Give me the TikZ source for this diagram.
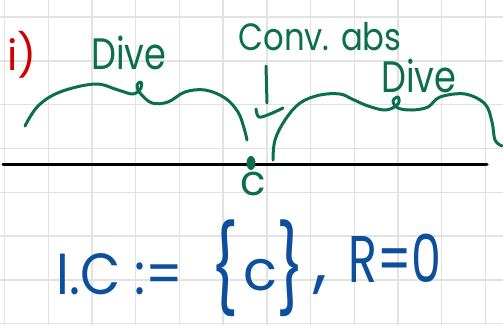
\documentclass[tikz,border=0pt]{standalone}
\usepackage{fontspec}
\setmainfont{Poppins}
\definecolor{gridc}{HTML}{E2E2E2}
\definecolor{pgreen}{HTML}{0B6E4F}
\definecolor{pblue}{HTML}{0D4F9C}
\definecolor{pred}{HTML}{D00000}
\tikzset{
  gridline/.style={gridc, line width=1.4pt},
  greenink/.style={pgreen, line width=3pt, line cap=round, line join=round},
  hand/.style={inner sep=0pt, anchor=center},
}
\newcommand{\hs}[2]{\scalebox{#1}[1]{#2}}
\begin{document}
\begin{tikzpicture}[x=1pt,y=-1pt]
\useasboundingbox (0,0) rectangle (503,325);
\fill[white] (0,0) rectangle (503,325);
% grid
\foreach \i in {0,...,11} \draw[gridline] ({4.6+43.7*\i},0) -- ({4.6+43.7*\i},325);
\foreach \j in {0,...,7} \draw[gridline] (0,{17+43.8*\j}) -- (503,{17+43.8*\j});
% axis line
\coordinate (la) at (3,164);
\coordinate (lb) at (487,164);
\draw[black, line width=3pt, line cap=round] (la) -- (lb);
% point c
\fill[pgreen] (251,163) ellipse [x radius=4.5, y radius=7];
\node[hand, text=pgreen, font=\fontsize{42}{42}\selectfont] (c) at (253,184) {c};
% label i)
\node[hand, text=pred, font=\fontsize{42}{42}\selectfont] (lab) at (22,55) {i)};
% left brace
\draw[greenink] plot[smooth, tension=0.6] coordinates {(25,126) (38,106) (60,92) (95,84) (118,90) (133,94) (141,88) (141,82) (137,85) (140,93) (152,103) (168,102) (185,92) (205,90) (225,98) (238,112) (244,128) (247,140)};
\node[hand, text=pgreen, font=\fontsize{44}{44}\selectfont] (dl) at (129,53) {\hs{0.8}{Dive}};
% middle marker
\draw[greenink] (266,66) -- (267,103);
\draw[greenink] plot[smooth, tension=0.6] coordinates {(256,109) (259,117) (270,114) (283,108)};
\node[hand, text=pgreen, font=\fontsize{38}{38}\selectfont] (ca) at (320,37) {\hs{0.85}{Conv. abs}};
% right brace
\draw[greenink] plot[smooth, tension=0.6] coordinates {(273,160) (275,140) (285,120) (300,103) (320,95) (340,94) (352,99) (368,106) (386,110) (398,104) (398,97) (393,101) (398,108) (412,110) (428,107) (440,97) (465,94) (485,104) (492,122) (495,140) (502,146)};
\node[hand, text=pgreen, font=\fontsize{44}{44}\selectfont] (dr) at (419,76) {\hs{0.8}{Dive}};
% formula
\node[hand, text=pblue, font=\fontsize{58}{58}\selectfont] (f1) at (120,274) {\hs{0.9}{I.C :=}};
\node[hand, text=pblue, font=\fontsize{72}{72}\selectfont] (f2a) at (225,268) {\scalebox{0.85}[1.2]{\{}};
\node[hand, text=pblue, font=\fontsize{56}{56}\selectfont] (f2b) at (260,275) {c};
\node[hand, text=pblue, font=\fontsize{72}{72}\selectfont] (f2c) at (291,268) {\scalebox{0.85}[1.2]{\}}};
\node[hand, text=pblue, font=\fontsize{70}{70}\selectfont] (f2d) at (320,285) {,};
\node[hand, text=pblue, font=\fontsize{66}{66}\selectfont] (f3) at (395,258) {\hs{0.72}{R=0}};
\end{tikzpicture}
\end{document}
